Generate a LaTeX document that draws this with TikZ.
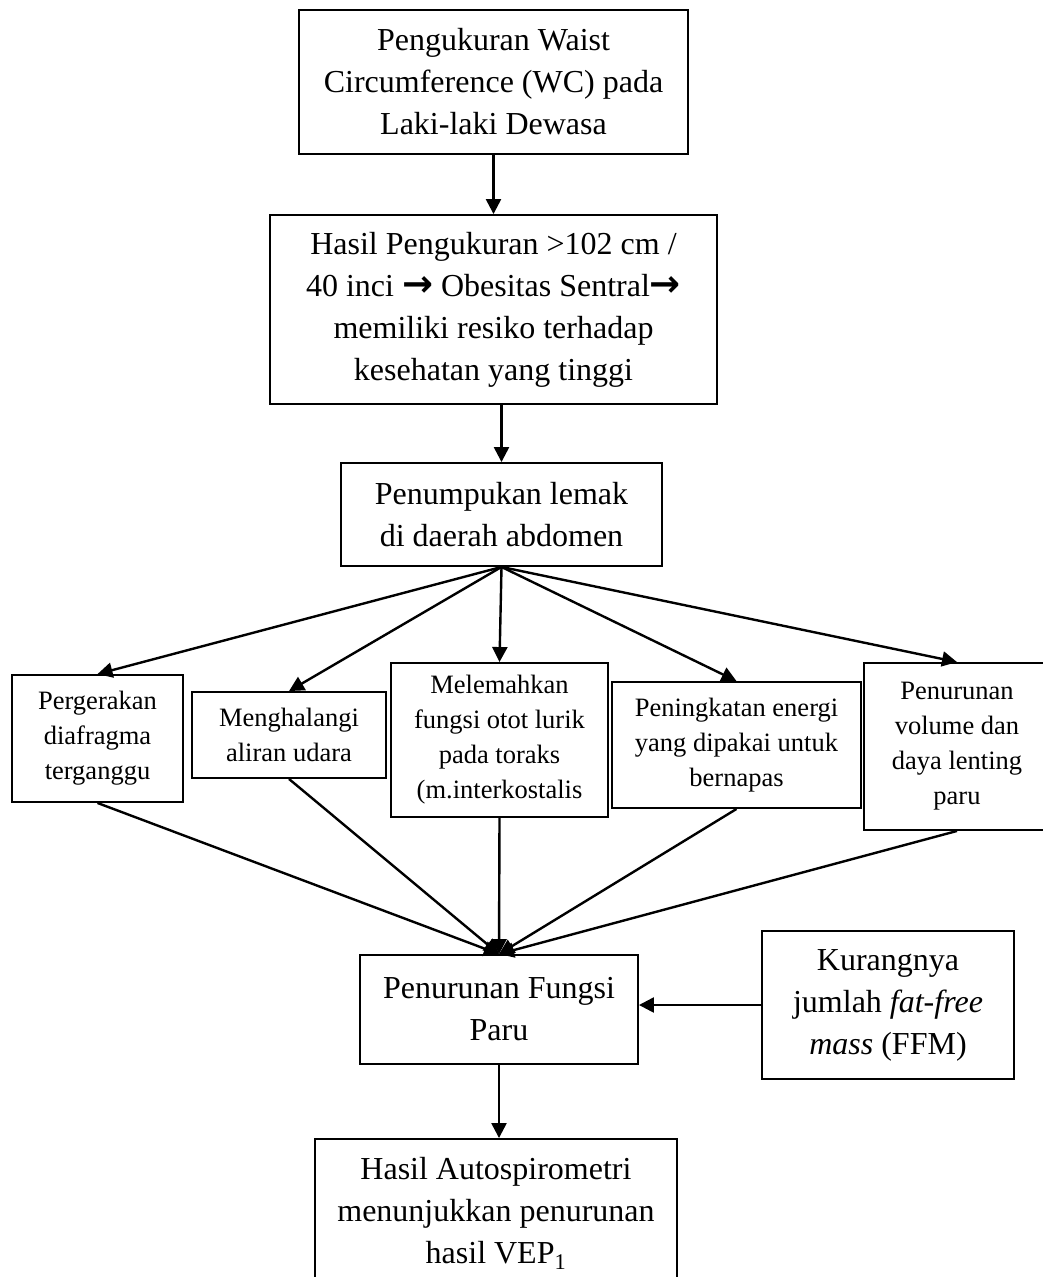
\documentclass[tikz,border=0pt]{standalone}
\usepackage{fontspec}
\setmainfont{Liberation Serif}
\newfontfamily\arrowfont{DejaVu Sans}
\usetikzlibrary{arrows.meta}
\newcommand{\rarr}{{\fontsize{37pt}{42pt}\arrowfont\bfseries →}}
\tikzset{
  box/.style={draw=black, line width=1.9pt, rectangle, inner sep=0pt, align=center, fill=white},
  big/.style={font={\fontsize{32pt}{42pt}\selectfont}},
  small/.style={font={\fontsize{26.5pt}{35pt}\selectfont}},
  arr/.style={line width=2.4pt, -{Triangle[length=15pt,width=15pt]}},
}
\begin{document}
\begin{tikzpicture}[x=1pt,y=-1pt]
\path[use as bounding box] (0,0) rectangle (1043,1277);
\fill[white] (0,0) rectangle (1043,1277);
\clip (0,0) rectangle (1043,1277);

\node[box,big,minimum width=389pt,minimum height=144pt] (b1) at (493.5,82)
  {Pengukuran Waist\\Circumference (WC) pada\\Laki-laki Dewasa};
\node[box,big,minimum width=447pt,minimum height=189pt] (b2) at (493.5,309.5)
  {Hasil Pengukuran >102 cm /\\40 inci \rarr{} Obesitas Sentral\rarr\\memiliki resiko terhadap\\kesehatan yang tinggi};
\node[box,big,minimum width=321pt,minimum height=103pt] (b3) at (501.5,514.5)
  {Penumpukan lemak\\di daerah abdomen};

\node[box,small,minimum width=171pt,minimum height=127pt] (ba) at (97.5,738.5)
  {Pergerakan\\diafragma\\terganggu};
\node[box,small,minimum width=194pt,minimum height=86pt] (bb) at (289,735)
  {Menghalangi\\aliran udara};
\node[box,small,minimum width=217pt,minimum height=154pt] (bc) at (499.5,740)
  {Melemahkan\\fungsi otot lurik\\pada toraks\\(m.interkostalis};
\node[box,small,minimum width=249pt,minimum height=126pt] (bd) at (736.5,745)
  {Peningkatan energi\\yang dipakai untuk\\bernapas};
\node[box,small,minimum width=186pt,minimum height=167pt] (be) at (957,746.5)
  {Penurunan\\volume dan\\daya lenting\\paru};

\node[box,big,minimum width=278pt,minimum height=109pt] (bf) at (499,1009.5)
  {Penurunan Fungsi\\Paru};
\node[box,big,minimum width=252pt,minimum height=148pt] (bk) at (888,1005)
  {Kurangnya\\jumlah \textit{fat-free}\\\textit{mass} (FFM)};
\node[box,big,minimum width=362pt,minimum height=148pt] (bg) at (496,1213)
  {Hasil Autospirometri\\menunjukkan penurunan\\hasil VEP\textsubscript{1}};

\draw[arr] (b1.south) -- (b1.south |- b2.north);
\draw[arr] (b3.north |- b2.south) -- (b3.north);

\foreach \t in {ba,bb,bc,bd,be}
  \draw[arr] (b3.south) -- (\t.north);

\foreach \s in {ba,bb,bc,bd,be}
  \draw[arr] (\s.south) -- (bf.north);

\draw[arr] (bk.west) -- (bk.west -| bf.east);
\draw[arr] (bf.south) -- (bf.south |- bg.north);
\end{tikzpicture}
\end{document}
